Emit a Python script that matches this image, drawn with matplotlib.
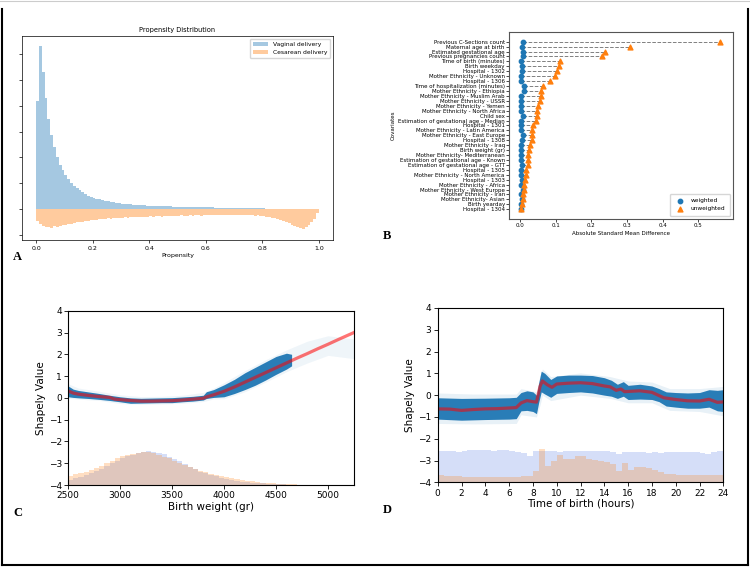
import numpy as np
import matplotlib
matplotlib.use('Agg')
import matplotlib.pyplot as plt
from matplotlib.lines import Line2D

# ---- A: propensity histogram (100 bins on [0, 1]) ----
vaginal = [4.2, 6.3, 5.3, 4.3, 3.5, 2.85, 2.4, 2.02, 1.72, 1.5,
           1.3, 1.15, 1.0, 0.9, 0.8, 0.72, 0.65, 0.58, 0.52, 0.47,
           0.43, 0.4, 0.37, 0.34, 0.32, 0.3, 0.28, 0.26, 0.24, 0.23,
           0.21, 0.2, 0.19, 0.18, 0.17, 0.16, 0.15, 0.15, 0.14, 0.13,
           0.13, 0.12, 0.12, 0.11, 0.11, 0.1, 0.1, 0.1, 0.09, 0.09,
           0.09, 0.08, 0.08, 0.08, 0.08, 0.07, 0.07, 0.07, 0.07, 0.06,
           0.06, 0.06, 0.06, 0.05, 0.05, 0.05, 0.05, 0.05, 0.04, 0.04,
           0.04, 0.04, 0.04, 0.04, 0.03, 0.03, 0.03, 0.03, 0.03, 0.03,
           0.03, 0.02, 0.02, 0.02, 0.02, 0.02, 0.02, 0.02, 0.02, 0.02,
           0.02, 0.02, 0.01, 0.01, 0.01, 0.01, 0.01, 0.01, 0.01, 0.01]
cesarean = [0.45, 0.58, 0.66, 0.7, 0.68, 0.72, 0.66, 0.7, 0.64, 0.62,
            0.6, 0.57, 0.58, 0.54, 0.52, 0.5, 0.51, 0.47, 0.46, 0.44,
            0.42, 0.43, 0.4, 0.39, 0.38, 0.36, 0.37, 0.35, 0.34, 0.35,
            0.33, 0.32, 0.33, 0.31, 0.3, 0.32, 0.3, 0.29, 0.31, 0.29,
            0.28, 0.29, 0.28, 0.27, 0.29, 0.27, 0.28, 0.26, 0.27, 0.26,
            0.27, 0.25, 0.26, 0.27, 0.25, 0.26, 0.24, 0.25, 0.26, 0.24,
            0.25, 0.24, 0.23, 0.25, 0.24, 0.23, 0.24, 0.22, 0.23, 0.24,
            0.23, 0.24, 0.22, 0.24, 0.23, 0.25, 0.24, 0.26, 0.25, 0.27,
            0.28, 0.3, 0.31, 0.34, 0.36, 0.4, 0.43, 0.47, 0.52, 0.56,
            0.6, 0.64, 0.7, 0.72, 0.76, 0.7, 0.62, 0.52, 0.38, 0.15]

# ---- B: covariate balance ----
covariates = ['Previous C-Sections count', 'Maternal age at birth', 'Estimated gestational age',
              'Previous pregnancies count', 'Time of birth (minutes)', 'Birth weekday',
              'Hospital - 1302', 'Mother Ethnicity - Unknown', 'Hospital - 1306',
              'Time of hospitalization (minutes)', 'Mother Ethnicity - Ethiopia',
              'Mother Ethnicity - Muslim Arab', 'Mother Ethnicity - USSR', 'Mother Ethnicity - Yemen',
              'Mother Ethnicity - North Africa', 'Child sex', 'Estimation of gestational age - Median',
              'Hospital - 1301', 'Mother Ethnicity - Latin America', 'Mother Ethnicity - East Europe',
              'Hospital - 1308', 'Mother Ethnicity - Iraq', 'Birth weight (gr)',
              'Mother Ethnicity- Mediterranean', 'Estimation of gestational age - Known',
              'Estimation of gestational age - GTT', 'Hospital - 1305', 'Mother Ethnicity - North America',
              'Hospital - 1303', 'Mother Ethnicity - Africa', 'Mother Ethnicity - West Europe',
              'Mother Ethnicity - Iran', 'Mother Ethnicity- Asian', 'Birth yearday', 'Hospital - 1304']
unweighted = [0.56, 0.31, 0.238, 0.231, 0.113, 0.11, 0.104, 0.098, 0.083, 0.065,
              0.058, 0.058, 0.056, 0.05, 0.048, 0.047, 0.046, 0.036, 0.034, 0.033,
              0.033, 0.028, 0.026, 0.023, 0.022, 0.021, 0.017, 0.016, 0.013, 0.012,
              0.01, 0.009, 0.009, 0.005, 0.004]
weighted = [0.008, 0.005, 0.007, 0.007, 0.002, 0.005, 0.005, 0.004, 0.002, 0.012,
            0.01, 0.002, 0.004, 0.004, 0.002, 0.009, 0.002, 0.003, 0.003, 0.007,
            0.005, 0.003, 0.003, 0.002, 0.004, 0.005, 0.002, 0.004, 0.005, 0.004,
            0.007, 0.004, 0.005, 0.004, 0.002]

# ---- C: birth weight ----
bw_edges = np.arange(2500, 5250, 50)
bw_hist_orange = [0.42, 0.5, 0.55, 0.62, 0.68, 0.78, 0.85, 1.0, 1.12, 1.22,
                  1.32, 1.38, 1.42, 1.48, 1.52, 1.5, 1.45, 1.4, 1.3, 1.22,
                  1.12, 1.02, 0.92, 0.82, 0.72, 0.65, 0.58, 0.52, 0.47, 0.42,
                  0.38, 0.32, 0.27, 0.23, 0.2, 0.17, 0.14, 0.11, 0.09, 0.07,
                  0.06, 0.05, 0.04, 0.03, 0.02, 0.015, 0.01, 0.008, 0.005, 0.004,
                  0.003, 0.002, 0.001, 0.0, 0.0]
bw_hist_blue = [0.25, 0.32, 0.38, 0.45, 0.55, 0.65, 0.75, 0.88, 1.0, 1.12,
                1.25, 1.33, 1.4, 1.45, 1.5, 1.55, 1.52, 1.47, 1.42, 1.3,
                1.2, 1.08, 0.95, 0.84, 0.72, 0.62, 0.54, 0.46, 0.4, 0.34,
                0.28, 0.23, 0.19, 0.15, 0.13, 0.11, 0.09, 0.07, 0.05, 0.04,
                0.03, 0.025, 0.02, 0.015, 0.01, 0.008, 0.006, 0.004, 0.003, 0.002,
                0.001, 0.0, 0.0, 0.0, 0.0]
bw_band_x = [2500, 2550, 2600, 2700, 2800, 2900, 3000, 3100, 3200, 3300, 3400, 3500, 3600,
             3700, 3800, 3830, 3900, 4000, 4100, 4200, 4300, 4400, 4500, 4600, 4650]
bw_band_hi = [0.55, 0.4, 0.34, 0.27, 0.2, 0.12, 0.05, 0.0, -0.02, -0.01, 0.0, 0.01, 0.04,
              0.07, 0.12, 0.28, 0.38, 0.6, 0.85, 1.15, 1.4, 1.65, 1.9, 2.05, 2.0]
bw_band_lo = [0.05, 0.02, 0.0, -0.03, -0.07, -0.12, -0.18, -0.25, -0.24, -0.23, -0.22, -0.22, -0.18,
              -0.15, -0.1, -0.03, 0.02, 0.05, 0.2, 0.38, 0.58, 0.82, 1.08, 1.32, 1.47]
bw_light_x = [2500, 2600, 2800, 3000, 3200, 3400, 3600, 3800, 3900, 4000, 4200, 4400, 4600, 4800, 5000, 5250]
bw_light_hi = [0.65, 0.45, 0.3, 0.14, 0.06, 0.07, 0.12, 0.25, 0.45, 0.7, 1.25, 1.75, 2.2, 2.6, 2.85, 2.7]
bw_light_lo = [-0.02, -0.06, -0.12, -0.26, -0.3, -0.28, -0.25, -0.17, -0.05, -0.04, 0.28, 0.72, 1.2, 1.6, 1.95, 1.8]
bw_fit_x = [2500, 2550, 2600, 2700, 2800, 2900, 2950, 3000, 3100, 3200, 3300, 3400, 3500, 3600,
            3700, 3800, 3830, 3900, 4000, 4100, 4200, 4300, 4400, 4500, 4600, 4700, 4800, 4900,
            5000, 5100, 5250]
bw_fit_y = [0.32, 0.22, 0.17, 0.11, 0.06, 0.02, -0.06, -0.08, -0.12, -0.15, -0.15, -0.14, -0.13, -0.1,
            -0.06, -0.02, 0.04, 0.14, 0.3, 0.5, 0.72, 0.94, 1.16, 1.38, 1.6, 1.82, 2.03, 2.25,
            2.46, 2.68, 3.0]

# ---- D: time of birth ----
tb_edges = np.arange(0, 24, 0.5)
tb_hist_blue = [1.42, 1.42, 1.44, 1.40, 1.45, 1.47, 1.47, 1.48, 1.47, 1.43, 1.47, 1.47, 1.45, 1.40,
                1.35, 1.22, 1.45, 1.42, 1.45, 1.42, 1.40, 1.42, 1.43, 1.44, 1.43, 1.43, 1.42, 1.44,
                1.44, 1.38, 1.32, 1.40, 1.40, 1.38, 1.40, 1.36, 1.38, 1.36, 1.40, 1.38, 1.40, 1.40,
                1.38, 1.38, 1.35, 1.32, 1.40, 1.42]
tb_hist_orange = [0.32, 0.3, 0.28, 0.27, 0.25, 0.24, 0.23, 0.23, 0.23, 0.23, 0.23, 0.23, 0.22, 0.25,
                  0.27, 0.28, 0.5, 1.55, 0.77, 0.97, 1.26, 1.08, 1.05, 1.2, 1.2, 1.08, 1.03, 0.97,
                  0.91, 0.82, 0.54, 0.88, 0.57, 0.72, 0.72, 0.66, 0.57, 0.46, 0.38, 0.36, 0.35, 0.34,
                  0.33, 0.33, 0.33, 0.34, 0.33, 0.32]
tb_band_x = [0, 2, 4, 6, 6.6, 7.0, 7.5, 8.0, 8.3, 8.5, 8.7, 9.0, 9.5, 10, 11, 12, 13, 14, 14.6,
             15.1, 15.6, 16.0, 17, 18, 18.6, 19.2, 20, 21, 22, 22.8, 23.5, 24]
tb_band_hi = [-0.12, -0.15, -0.14, -0.12, -0.1, 0.12, 0.2, 0.15, 0.0, 0.6, 1.1, 1.0, 0.72, 0.88,
              0.92, 0.92, 0.9, 0.8, 0.68, 0.5, 0.62, 0.45, 0.5, 0.42, 0.3, 0.15, 0.12, 0.1, 0.12,
              0.25, 0.22, 0.25]
tb_band_lo = [-1.1, -1.15, -1.12, -1.1, -1.08, -0.72, -0.7, -0.75, -0.85, -0.3, 0.15, 0.05, -0.1,
              0.08, 0.12, 0.15, 0.1, 0.0, -0.05, -0.15, -0.05, -0.2, -0.18, -0.2, -0.3, -0.5,
              -0.55, -0.6, -0.6, -0.55, -0.72, -0.75]
tb_light_x = [0, 3, 6.6, 7.0, 8.3, 8.6, 8.8, 9.5, 12, 14.5, 16, 18, 19.5, 22, 24]
tb_light_hi = [0.1, 0.05, 0.05, 0.3, 0.15, 0.9, 1.2, 0.85, 1.02, 0.85, 0.65, 0.6, 0.3, 0.3, 0.4]
tb_light_lo = [-1.3, -1.32, -1.3, -0.9, -1.0, -0.45, 0.0, -0.25, 0.0, -0.15, -0.35, -0.35, -0.7, -0.75, -0.95]
tb_fit_x = [0, 1, 2, 3, 4, 5, 6, 6.6, 7.0, 7.5, 8.0, 8.3, 8.6, 8.8, 9.2, 9.6, 10, 11, 12, 13,
            14, 14.5, 15.0, 15.4, 15.7, 16, 17, 18, 19, 20, 21, 22, 22.8, 23.5, 24]
tb_fit_y = [-0.63, -0.64, -0.7, -0.66, -0.63, -0.62, -0.59, -0.57, -0.36, -0.25, -0.3, -0.32, 0.4,
            0.65, 0.48, 0.36, 0.51, 0.55, 0.57, 0.53, 0.42, 0.38, 0.22, 0.28, 0.16, 0.17, 0.2,
            0.13, -0.12, -0.2, -0.26, -0.27, -0.19, -0.33, -0.31]

BLUE = '#1f77b4'
ORANGE = '#ff7f0e'

fig = plt.figure(figsize=(7.5, 5.67), dpi=100)

# 面板 A
axA = fig.add_axes([0.0293, 0.5767, 0.4147, 0.3598])
edges = np.linspace(0, 1, 101)
axA.stairs(vaginal, edges, fill=True, color=BLUE, alpha=0.4, label='Vaginal delivery')
axA.stairs(-np.array(cesarean), edges, fill=True, color=ORANGE, alpha=0.4, label='Cesarean delivery')
axA.set_xlim(-0.05, 1.05)
axA.set_ylim(-1.2, 6.7)
axA.set_yticks(range(-1, 7))
axA.set_yticklabels([])
axA.set_xticks([0, 0.2, 0.4, 0.6, 0.8, 1.0])
axA.tick_params(labelsize=4.5, length=2.5, width=0.5, pad=1.5)
axA.set_title('Propensity Distribution', fontsize=4.8, pad=3)
axA.set_xlabel('Propensity', fontsize=4.5, labelpad=2)
axA.legend(loc='upper right', fontsize=4.3, handlelength=2.5, borderpad=0.5)
for s in axA.spines.values():
    s.set_linewidth(0.5)

# 面板 B
axB = fig.add_axes([0.6787, 0.6138, 0.2987, 0.3298])
ypos = np.arange(len(covariates))
axB.hlines(ypos, weighted, unweighted, colors='gray', linestyles='--', linewidth=0.7)
axB.scatter(weighted, ypos, s=10, marker='o', color=BLUE, label='weighted', zorder=3)
axB.scatter(unweighted, ypos, s=12, marker='^', color=ORANGE, label='unweighted', zorder=3)
axB.set_yticks(ypos)
axB.set_yticklabels(covariates)
axB.set_ylim(len(covariates) - 1 + 1.97, -1.97)
axB.set_xlim(-0.031, 0.598)
axB.tick_params(labelsize=4, length=2, width=0.5, pad=1)
axB.set_xlabel('Absolute Standard Mean Difference', fontsize=4, labelpad=2)
axB.set_ylabel('Covariates', fontsize=4, labelpad=2)
axB.legend(loc='lower right', fontsize=4.2, handletextpad=0.8, borderpad=0.8)
for s in axB.spines.values():
    s.set_linewidth(0.8)
    s.set_color('#555555')

# 面板 C
axC = fig.add_axes([0.0907, 0.1446, 0.3813, 0.3074])
axC.bar(bw_edges, bw_hist_blue, width=50, bottom=-4, align='edge', color='royalblue', alpha=0.22, linewidth=0)
axC.bar(bw_edges, bw_hist_orange, width=50, bottom=-4, align='edge', color=ORANGE, alpha=0.25, linewidth=0)
axC.fill_between(bw_light_x, bw_light_lo, bw_light_hi, color=BLUE, alpha=0.07, linewidth=0)
axC.fill_between(bw_band_x, bw_band_lo, bw_band_hi, color=BLUE, alpha=0.95, linewidth=0)
axC.plot(bw_fit_x, bw_fit_y, color='red', alpha=0.55, linewidth=2.3)
axC.set_xlim(2500, 5250)
axC.set_ylim(-4, 4)
axC.set_xticks([2500, 3000, 3500, 4000, 4500, 5000])
axC.set_yticks(range(-4, 5))
axC.tick_params(labelsize=6.5, length=3, width=0.6, pad=1.5)
axC.set_xlabel('Birth weight (gr)', fontsize=7.5, labelpad=1)
axC.set_ylabel('Shapely Value', fontsize=7.5, labelpad=2)

# 面板 D
axD = fig.add_axes([0.5836, 0.1494, 0.3808, 0.3074])
axD.bar(tb_edges, tb_hist_blue, width=0.5, bottom=-4, align='edge', color='royalblue', alpha=0.22, linewidth=0)
axD.bar(tb_edges, tb_hist_orange, width=0.5, bottom=-4, align='edge', color=ORANGE, alpha=0.25, linewidth=0)
axD.fill_between(tb_light_x, tb_light_lo, tb_light_hi, color=BLUE, alpha=0.1, linewidth=0)
axD.fill_between(tb_band_x, tb_band_lo, tb_band_hi, color=BLUE, alpha=0.95, linewidth=0)
axD.plot(tb_fit_x, tb_fit_y, color='red', alpha=0.55, linewidth=2.3)
axD.set_xlim(0, 24)
axD.set_ylim(-4, 4)
axD.set_xticks(range(0, 25, 2))
axD.set_yticks(range(-4, 5))
axD.tick_params(labelsize=6.5, length=3, width=0.6, pad=1.5)
axD.set_xlabel('Time of birth (hours)', fontsize=7.5, labelpad=1)
axD.set_ylabel('Shapely Value', fontsize=7.5, labelpad=2)

# 面板字母
for x, y, t in [(0.0173, 0.5467, 'A'), (0.511, 0.584, 'B'), (0.0173, 0.095, 'C'), (0.511, 0.100, 'D')]:
    fig.text(x, y, t, fontsize=9, fontweight='bold', family='Liberation Serif', va='center')

# 外框
fig.add_artist(Line2D([0.002, 0.002], [0.003, 0.985], color='black', linewidth=1.5))
fig.add_artist(Line2D([0.002, 0.997], [0.003, 0.003], color='black', linewidth=1.5))
fig.add_artist(Line2D([0.997, 0.997], [0.003, 0.985], color='black', linewidth=1.5))
fig.add_artist(Line2D([0.0, 1.0], [0.998, 0.998], color='#cccccc', linewidth=0.8))

fig.savefig('out.png', dpi=100)
